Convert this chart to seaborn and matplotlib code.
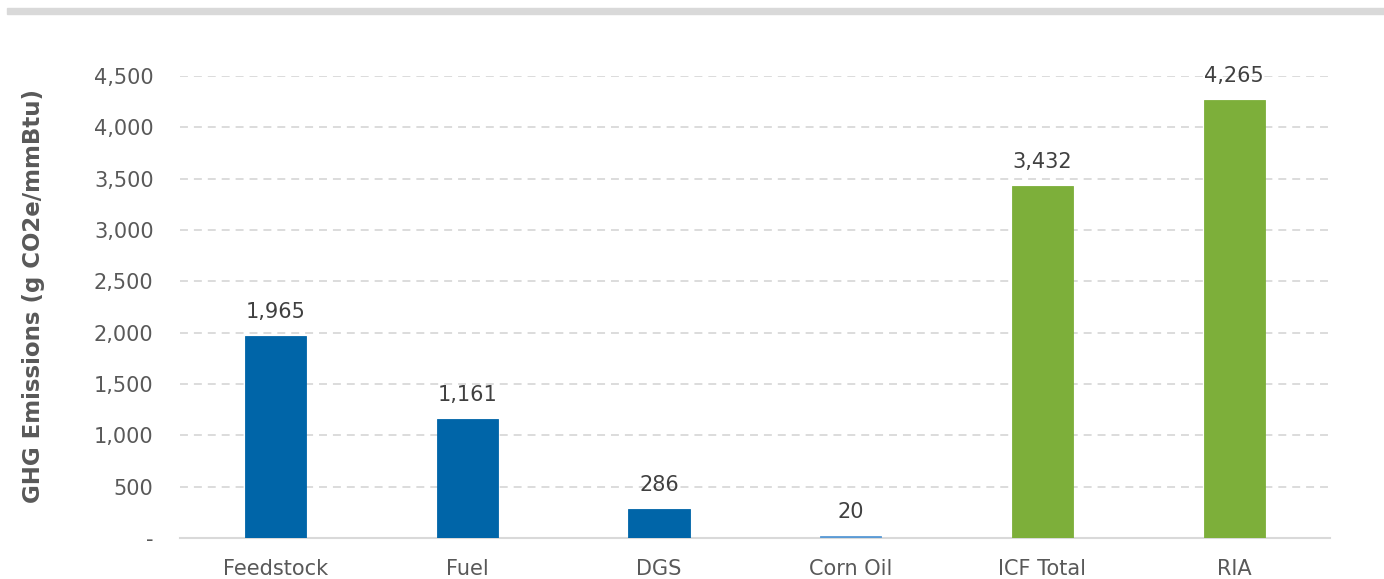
import matplotlib
matplotlib.use("Agg")
import matplotlib.pyplot as plt
import matplotlib.ticker as mticker
import seaborn as sns
import pandas as pd

categories = ["Feedstock", "Fuel", "DGS", "Corn Oil", "ICF Total", "RIA"]
emissions = [1965, 1161, 286, 20, 3432, 4265]
bar_colors = ["#0065A8", "#0065A8", "#0065A8", "#5B9BD5", "#7DAF3A", "#7DAF3A"]
y_ticks = [0, 500, 1000, 1500, 2000, 2500, 3000, 3500, 4000, 4500]

sns.set_theme(style="white")
plt.rcParams["font.family"] = ["DejaVu Sans"]

df = pd.DataFrame({"category": categories, "value": emissions})

fig = plt.figure(figsize=(13.84, 5.79), dpi=100)
ax = fig.add_axes([0.130, 0.0708, 0.831, 0.798])

sns.barplot(data=df, x="category", y="value", hue="category",
            palette=bar_colors, width=0.32, legend=False, ax=ax,
            saturation=1, order=categories, zorder=3)

# give every bar an outline in its own colour so the tiny ones stay visible
for patch in ax.patches:
    patch.set_edgecolor(patch.get_facecolor())
    patch.set_linewidth(0.6)

ax.set_xlim(-0.5, 5.5)
ax.set_ylim(0, 4500)
ax.set_yticks(y_ticks)
ax.yaxis.set_major_formatter(mticker.FuncFormatter(
    lambda v, p: "-" if v == 0 else f"{int(v):,}"))

ax.yaxis.grid(True, color="#d9d9d9", linestyle=(0, (4.4, 3.3)), linewidth=1.3)
ax.set_axisbelow(True)
for side in ["top", "right", "left"]:
    ax.spines[side].set_visible(False)
ax.spines["bottom"].set_color("#d9d9d9")
ax.spines["bottom"].set_linewidth(1.5)
ax.spines["bottom"].set_zorder(1)
ax.tick_params(axis="both", length=0, labelsize=15, colors="#595959")
ax.tick_params(axis="y", pad=19)
ax.tick_params(axis="x", pad=15)

ax.set_xlabel("")
ax.set_ylabel("GHG Emissions (g CO2e/mmBtu)", fontsize=16.5, fontweight="bold",
              color="#595959")
ax.yaxis.set_label_coords(-0.117, 0.524)

for i, v in enumerate(emissions):
    ax.annotate(f"{v:,}", xy=(i, v), xytext=(0, 10), textcoords="offset points",
                ha="center", va="bottom", fontsize=15, color="#404040")

# thin grey band across the top
fig.patches.append(plt.Rectangle((7 / 1384, 1 - 14 / 579), 1 - 7 / 1384, 6 / 579,
                                 transform=fig.transFigure, color="#d9d9d9",
                                 zorder=0))

fig.savefig("out.png", dpi=100)
